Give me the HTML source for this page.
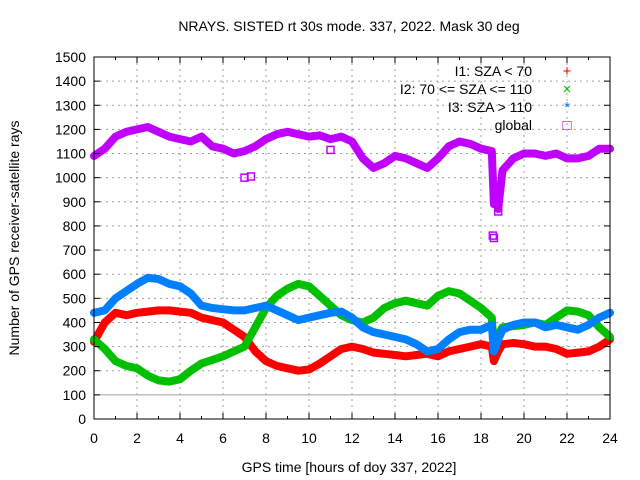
<!DOCTYPE html>
<html><head><meta charset="utf-8"><style>
body{margin:0;background:#fff}
svg{display:block;font-family:"Liberation Sans",sans-serif;font-size:14px}
</style></head><body>
<svg id="chart" width="640" height="480">
<text x="349" y="31" text-anchor="middle">NRAYS. SISTED rt 30s mode. 337, 2022. Mask 30 deg</text>
<text x="349" y="472" text-anchor="middle">GPS time [hours of doy 337, 2022]</text>
<text transform="translate(19,238) rotate(-90)" text-anchor="middle">Number of GPS receiver-satellite rays</text>
<g id="grid"></g><g id="series"></g><g id="axes"></g>
<g id="legend"></g>
</svg>
<script>
const hours=[0,0.5,1,1.5,2,2.5,3,3.5,4,4.5,5,5.5,6,6.5,7,7.5,8,8.5,9,9.5,10,10.5,11,11.5,12,12.5,13,13.5,14,14.5,15,15.5,16,16.5,17,17.5,18,18.5,18.6,18.7,18.8,19,19.5,20,20.5,21,21.5,22,22.5,23,23.5,24];
const i1=[320,400,440,430,440,445,450,450,445,440,420,410,400,370,340,280,240,220,210,200,205,230,260,290,300,290,275,270,265,260,265,270,260,280,290,300,310,300,240,260,280,310,315,310,300,300,290,270,275,280,300,330];
const i2=[330,290,240,220,210,180,160,155,165,200,230,245,260,280,300,380,460,510,540,560,550,510,470,430,410,400,420,460,480,490,480,470,510,530,520,490,460,420,290,320,350,380,385,390,400,390,420,450,445,430,380,340];
const i3=[440,450,500,530,560,585,580,560,550,520,470,460,455,450,450,460,470,450,430,410,420,430,440,445,420,380,360,350,340,330,310,280,290,330,360,370,370,390,280,300,330,370,390,400,400,380,390,380,370,390,420,440];
const globalRays=[1090,1120,1170,1190,1200,1210,1190,1170,1160,1150,1170,1130,1120,1100,1110,1130,1160,1180,1190,1180,1170,1175,1160,1170,1150,1080,1040,1060,1090,1080,1060,1040,1080,1130,1150,1140,1120,1110,890,920,870,1030,1080,1100,1100,1090,1100,1080,1080,1090,1120,1120];
const outlierHours=[7,7.3,11,18.55,18.6,18.7,18.8];
const outlierVals=[1000,1005,1115,760,750,920,860];
const yTicks=[0,100,200,300,400,500,600,700,800,900,1000,1100,1200,1300,1400,1500];
const xTicks=[0,2,4,6,8,10,12,14,16,18,20,22,24];
const X0=94,X1=610,Y0=419,Y1=57;
const xs=h=>X0+(X1-X0)*h/24, ys=v=>Y0-(Y0-Y1)*v/1500;
const NS="http://www.w3.org/2000/svg";
function mk(p,t,a){const e=document.createElementNS(NS,t);for(const k in a)e.setAttribute(k,a[k]);p.appendChild(e);return e;}
const grid=document.getElementById('grid'),axes=document.getElementById('axes'),ser=document.getElementById('series'),leg=document.getElementById('legend');
yTicks.forEach(v=>{const y=ys(v);
 if(v>0&&v<1500){const g=mk(grid,'line',{x1:X0,x2:X1,y1:y,y2:y,stroke:'#a0a0a0','stroke-dasharray':v===100?'':'2,4','stroke-width':1});
 
 }
 const t=mk(axes,'text',{x:X0-8,y:y+5,'text-anchor':'end'});t.textContent=v;
 
 
 mk(axes,'line',{x1:X0,x2:X0+6,y1:y,y2:y,stroke:'#000'});mk(axes,'line',{x1:X1,x2:X1-6,y1:y,y2:y,stroke:'#000'});});
xTicks.forEach(h=>{const x=xs(h);
 if(h>0&&h<24){const g=mk(grid,'line',{x1:x,x2:x,y1:Y0,y2:Y1,stroke:'#a0a0a0','stroke-dasharray':'2,4'});
 
 }
 const t=mk(axes,'text',{x:x,y:Y0+24,'text-anchor':'middle'});t.textContent=h;
 
 
 mk(axes,'line',{x1:x,x2:x,y1:Y0,y2:Y0-6,stroke:'#000'});mk(axes,'line',{x1:x,x2:x,y1:Y1,y2:Y1+6,stroke:'#000'});});
for(let h=1;h<24;h+=2){const x=xs(h);mk(axes,'line',{x1:x,x2:x,y1:Y0,y2:Y0-3,stroke:'#000'});mk(axes,'line',{x1:x,x2:x,y1:Y1,y2:Y1+3,stroke:'#000'});}
const b=mk(axes,'rect',{x:X0,y:Y1,width:X1-X0,height:Y0-Y1,fill:'none',stroke:'#000'});


const S=[['i1',i1,'#ff0000','series-i1'],['i2',i2,'#00c000','series-i2'],['i3',i3,'#0080ff','series-i3'],['g',globalRays,'#c000ff','series-global']];
S.forEach(([k,d,c,n])=>{const pts=hours.map((h,i)=>xs(h).toFixed(1)+','+ys(d[i]).toFixed(1)).join(' ');
 const p=mk(ser,'polyline',{points:pts,fill:'none',stroke:c,'stroke-width':8,'stroke-linejoin':'round','stroke-linecap':'round'});
 
 });
outlierHours.forEach((h,i)=>{const r=mk(ser,'rect',{x:xs(h)-3.5,y:ys(outlierVals[i])-3.5,width:7,height:7,fill:'none',stroke:'#c000ff','stroke-width':1.5});
 
 });
const L=[['I1: SZA < 70','#ff0000','+',71],['I2: 70 <= SZA <= 110','#00c000','×',89],['I3: SZA > 110','#0080ff','*',107],['global','#c000ff','□',125]];
L.forEach(([t,c,m,y])=>{const e=mk(leg,'text',{x:532,y:y+5,'text-anchor':'end'});e.textContent=t;
 
 
 const s=mk(leg,'text',{x:567,y:y+5,'text-anchor':'middle',fill:c,'font-size':'15px'});s.textContent=m;
 
 });
</script>
</body></html>
